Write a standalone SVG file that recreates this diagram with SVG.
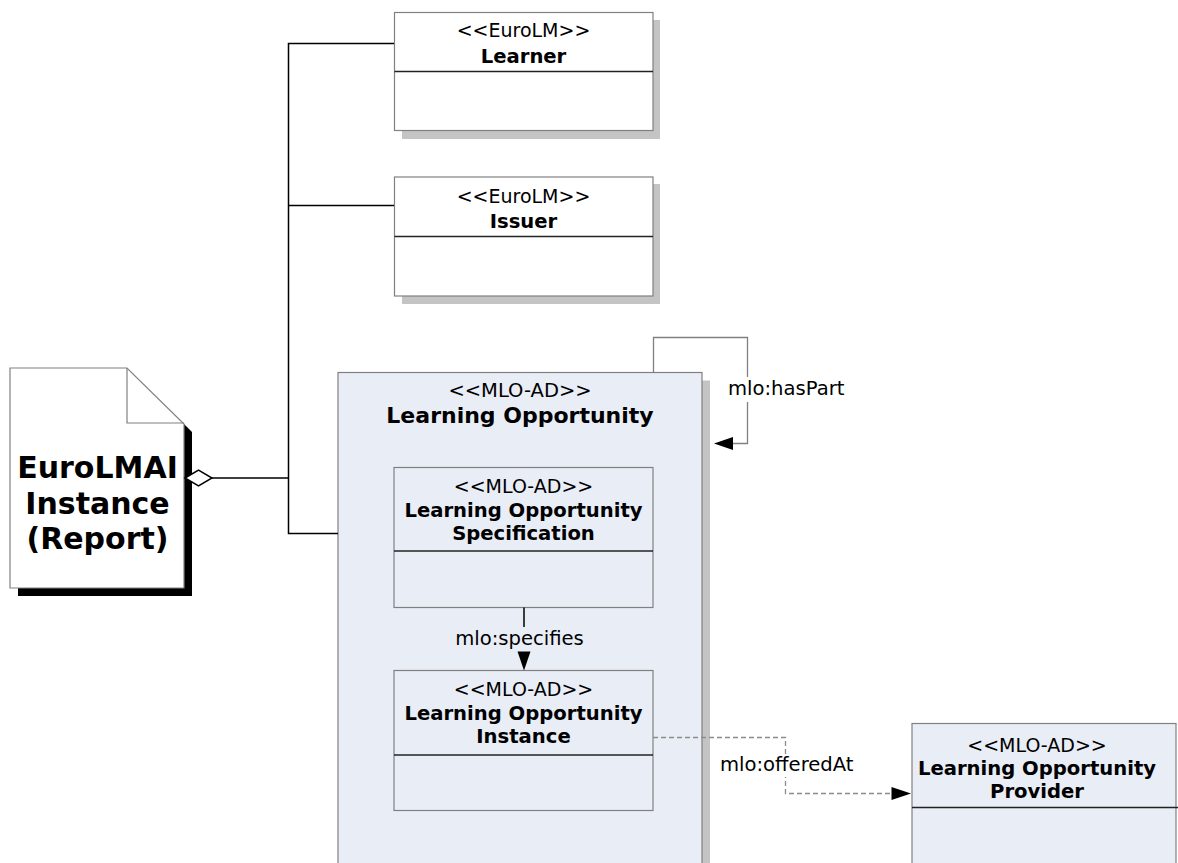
<svg xmlns="http://www.w3.org/2000/svg" width="1178" height="863" viewBox="0 0 1178 863">
<defs>
<style>
text{font-family:"DejaVu Sans","Liberation Sans",sans-serif;fill:#000;text-anchor:middle}
.st{font-size:19px}
.nm{font-size:19.6px;font-weight:bold}
.big{font-size:22px;font-weight:bold}
.doc{font-size:30px;font-weight:bold}
.lbl{font-size:19.6px;text-anchor:start}
.box{stroke:#808080;stroke-width:1.2}
.blue{fill:#E9EDF6}
.white{fill:#fff}
.sep{stroke:#222;stroke-width:1.6}
.shadow{fill:#C4C4C4}
.conn{stroke:#000;stroke-width:1.5;fill:none}
.loop{stroke:#808080;stroke-width:1.3;fill:none}
.dash{stroke:#8C8C8C;stroke-width:1.3;fill:none;stroke-dasharray:5,3}
.head{fill:#000}
</style>
</defs>
<rect width="1178" height="863" fill="#fff"/>

<g id="report">
<polygon points="184,424 192,432 192,596 18,596 18,588 184,588" fill="#000"/>
<polygon points="10,368 127,368 184,424 184,588 10,588" fill="#fff" stroke="#808080" stroke-width="1.2"/>
<polyline points="127,368 127,423 184,423" fill="none" stroke="#808080" stroke-width="1.2"/>
<text class="doc" x="97.5" y="478">EuroLMAI</text>
<text class="doc" x="97.5" y="514">Instance</text>
<text class="doc" x="97.5" y="549">(Report)</text>
</g>

<g id="learner">
<rect class="shadow" x="402" y="20" width="258" height="119"/>
<rect class="box white" x="394.5" y="12.5" width="258.5" height="118"/>
<line class="sep" x1="394.5" y1="71.5" x2="653" y2="71.5"/>
<text class="st" x="523.5" y="37">&lt;&lt;EuroLM&gt;&gt;</text>
<text class="nm" x="523.5" y="63">Learner</text>
</g>

<g id="issuer">
<rect class="shadow" x="402" y="184" width="258" height="120"/>
<rect class="box white" x="394.5" y="177" width="258.5" height="119"/>
<line class="sep" x1="394.5" y1="236.5" x2="653" y2="236.5"/>
<text class="st" x="523.5" y="202.5">&lt;&lt;EuroLM&gt;&gt;</text>
<text class="nm" x="523.5" y="228">Issuer</text>
</g>

<g id="learning-opportunity">
<rect class="shadow" x="702" y="380.5" width="8" height="483"/>
<rect class="box blue" x="338" y="372.5" width="364" height="500"/>
<text class="st" x="520" y="396.5" style="font-size:19.5px">&lt;&lt;MLO-AD&gt;&gt;</text>
<text class="big" x="520" y="423">Learning Opportunity</text>
</g>

<g id="lo-specification">
<rect class="box blue" x="394" y="467.5" width="259" height="140"/>
<line class="sep" x1="394" y1="551" x2="653" y2="551"/>
<text class="st" x="523.5" y="492.5">&lt;&lt;MLO-AD&gt;&gt;</text>
<text class="nm" x="523.5" y="516.5">Learning Opportunity</text>
<text class="nm" x="523.5" y="540">Specification</text>
</g>

<g id="lo-instance">
<rect class="box blue" x="394" y="670.5" width="259" height="140"/>
<line class="sep" x1="394" y1="755" x2="653" y2="755"/>
<text class="st" x="523.5" y="696">&lt;&lt;MLO-AD&gt;&gt;</text>
<text class="nm" x="523.5" y="720">Learning Opportunity</text>
<text class="nm" x="523.5" y="743">Instance</text>
</g>

<g id="lo-provider">
<rect class="box blue" x="912" y="723.5" width="264" height="150"/>
<line class="sep" x1="912" y1="807.5" x2="1178" y2="807.5"/>
<text class="st" x="1037" y="751.5">&lt;&lt;MLO-AD&gt;&gt;</text>
<text class="nm" x="1037" y="775">Learning Opportunity</text>
<text class="nm" x="1037" y="798">Provider</text>
</g>

<g id="connectors">
<polyline class="conn" points="394,43.5 288.5,43.5 288.5,533.5 338,533.5"/>
<line class="conn" x1="288.5" y1="205.5" x2="394" y2="205.5"/>
<line class="conn" x1="212" y1="478" x2="288.5" y2="478"/>
<polygon points="185,478 198.5,470 212,478 198.5,486" fill="#fff" stroke="#000" stroke-width="1.5"/>

<line class="conn" x1="524" y1="607.5" x2="524" y2="627"/>
<path class="head" d="M517.5,651.5 L530.5,651.5 L524,670.5 Z"/>
<text class="lbl" x="519.5" y="645" style="text-anchor:middle">mlo:specifies</text>

<polyline class="loop" points="653.5,372.5 653.5,337.5 747.5,337.5 747.5,443.5 733,443.5"/>
<path class="head" d="M714,443.5 L733,437 L733,450 Z"/>
<rect x="726" y="377" width="122" height="25" fill="#fff"/>
<text class="lbl" x="728" y="395">mlo:hasPart</text>

<polyline class="dash" points="653,737.5 785.5,737.5 785.5,793.5 892,793.5"/>
<path class="head" d="M911,793.5 L891.5,787 L891.5,800 Z"/>
<rect x="719" y="755" width="136" height="22" fill="#fff"/>
<text class="lbl" x="720" y="771">mlo:offeredAt</text>
</g>
</svg>
